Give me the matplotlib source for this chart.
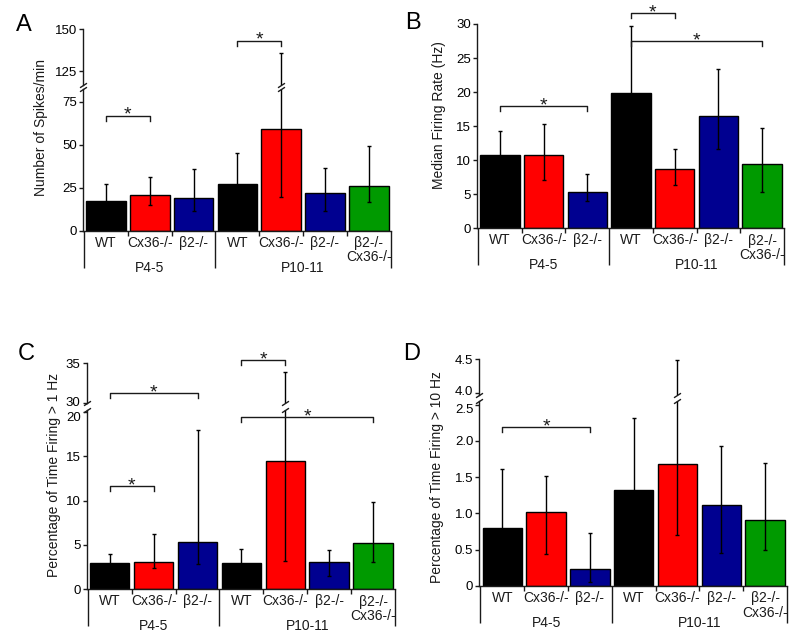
import matplotlib
matplotlib.use('Agg')
import matplotlib.pyplot as plt
import matplotlib.transforms as mtrans
import numpy as np

plt.rcParams['font.family'] = ['Liberation Sans', 'DejaVu Sans']
plt.rcParams['axes.linewidth'] = 1.0

W, H, DPI = 800, 639, 100

# ---------------- data ----------------
genotypes = ['WT', 'Cx36-/-', 'β2-/-', 'WT', 'Cx36-/-', 'β2-/-', 'β2-/-\nCx36-/-']
groups = ['P4-5', 'P10-11']
group_sizes = [3, 4]
colors = ['#000000', '#ff0000', '#000090', '#000000', '#ff0000', '#000090', '#009a00']

# A: Number of Spikes/min
spikes_mean = [17.1, 20.6, 18.9, 27.0, 58.9, 22.2, 25.8]
spikes_hi = [27.1, 31.2, 35.6, 45.2, 135.8, 36.4, 49.1]
spikes_lo = [8.0, 14.8, 11.5, 14.0, 19.8, 11.5, 16.4]
spikes_sig = [(0, 1, 66.8), (3, 4, 143.3)]

# B: Median Firing Rate (Hz)
rate_mean = [10.7, 10.7, 5.3, 19.85, 8.7, 16.56, 9.4]
rate_hi = [14.35, 15.3, 7.94, 29.65, 11.66, 23.4, 14.75]
rate_lo = [7.5, 7.06, 4.0, 11.0, 6.37, 11.6, 5.4]
rate_sig = [(0, 2, 17.9), (3, 4, 31.6), (3, 6, 27.5)]

# C: Percentage of Time Firing > 1 Hz
p1_mean = [2.93, 3.05, 5.34, 2.93, 14.4, 3.05, 5.19]
p1_hi = [3.95, 6.2, 17.98, 4.58, 33.9, 4.44, 9.89]
p1_lo = [2.0, 2.37, 2.86, 1.8, 3.23, 1.54, 3.05]
p1_sig = [(0, 1, 11.6), (0, 2, 31.2), (3, 4, 35.4), (3, 6, 19.4)]

# D: Percentage of Time Firing > 10 Hz
p10_mean = [0.806, 1.015, 0.24, 1.32, 1.675, 1.11, 0.906]
p10_hi = [1.607, 1.518, 0.73, 2.31, 4.49, 1.925, 1.70]
p10_lo = [0.3, 0.444, 0.06, 0.6, 0.70, 0.45, 0.49]
p10_sig = [(0, 2, 2.19)]

# ---------------- helpers ----------------
def pt(px):
    return px * 72.0 / DPI

def rect(left, right, top, bottom):
    return [left / W, 1 - bottom / H, (right - left) / W, (bottom - top) / H]

XLIM = (-0.525, 6.5)
SLASH = [(-1, -0.65), (1, 0.65)]
INK = '#1a1a1a'
TICKSIZE = 9.5

fig = plt.figure(figsize=(W / DPI, H / DPI), dpi=DPI)


def draw_bars(ax, mean, lo, hi):
    x = np.arange(len(mean))
    m = np.array(mean)
    ax.bar(x, m, width=0.9, color=colors, edgecolor='black', linewidth=1, zorder=2)
    yerr = [m - np.array(lo), np.array(hi) - m]
    ax.errorbar(x, m, yerr=yerr, fmt='none', ecolor='black', elinewidth=1,
                capsize=1.6, capthick=1, zorder=3)
    ax.set_xlim(*XLIM)
    for s in ['top', 'right']:
        ax.spines[s].set_visible(False)
    for s in ['left', 'bottom']:
        ax.spines[s].set_color(INK)
    ax.tick_params(axis='y', direction='out', length=pt(4), width=1, color=INK,
                   labelsize=TICKSIZE, pad=1.5)


def style_bottom(ax):
    ax.set_xticks([-0.5, 2.5, 6.5])
    ax.set_xticks([0.5, 1.5, 3.5, 4.5, 5.5], minor=True)
    ax.tick_params(axis='x', which='major', direction='out', length=pt(37), width=1,
                   color=INK, labelbottom=False)
    ax.tick_params(axis='x', which='minor', direction='out', length=pt(5), width=1,
                   color=INK, labelbottom=False)
    for i, lab in enumerate(genotypes):
        off = 19.5 if '\n' in lab else 12
        ax.annotate(lab, xy=(i, 0), xycoords=('data', 'axes fraction'),
                    xytext=(0, -pt(off)), textcoords='offset points',
                    ha='center', va='center', fontsize=10, linespacing=1.05, color=INK,
                    annotation_clip=False)
    start = 0
    for g, n in zip(groups, group_sizes):
        c = start + (n - 1) / 2.0
        ax.annotate(g, xy=(c, 0), xycoords=('data', 'axes fraction'),
                    xytext=(0, -pt(37)), textcoords='offset points',
                    ha='center', va='center', fontsize=10, color=INK,
                    annotation_clip=False)
        start += n


def style_top(ax):
    ax.spines['bottom'].set_visible(False)
    ax.tick_params(axis='x', which='both', bottom=False, labelbottom=False)


def bracket(ax, i, j, y):
    y0, y1 = ax.get_ylim()
    hpx = ax.get_position().height * H
    d = 5 * (y1 - y0) / hpx
    ax.plot([i, i, j, j], [y - d, y, y, y - d], color=INK, lw=1, clip_on=False, zorder=4)
    ax.annotate('*', xy=((i + j) / 2.0, y), xycoords='data',
                xytext=(0, -pt(4)), textcoords='offset points',
                ha='center', va='baseline', fontsize=14, color=INK,
                annotation_clip=False)


def slashes(ax_up, ax_lo, xs):
    kw = dict(marker=SLASH, markersize=5, linestyle='none', color=INK, mec=INK,
              mew=1, clip_on=False, zorder=5)
    ax_up.plot([0], [0], transform=ax_up.transAxes, **kw)
    ax_lo.plot([0], [1], transform=ax_lo.transAxes, **kw)
    for x in xs:
        tu = mtrans.blended_transform_factory(ax_up.transData, ax_up.transAxes)
        tl = mtrans.blended_transform_factory(ax_lo.transData, ax_lo.transAxes)
        ax_up.plot([x], [0], transform=tu, **kw)
        ax_lo.plot([x], [1], transform=tl, **kw)


def nudge(label, dy_px):
    label.set_transform(label.get_transform() +
                        mtrans.ScaledTranslation(0, dy_px / DPI, fig.dpi_scale_trans))


def broken_panel(left, right, lo_box, up_box, lo_lim, up_lim, lo_ticks, up_ticks,
                 lo_labels, up_labels, mean, lo, hi, sig, break_x, nudges):
    ax_lo = fig.add_axes(rect(left, right, lo_box[0], lo_box[1]))
    ax_up = fig.add_axes(rect(left, right, up_box[0], up_box[1]))
    for ax in (ax_lo, ax_up):
        draw_bars(ax, mean, lo, hi)
    ax_lo.set_ylim(*lo_lim)
    ax_up.set_ylim(*up_lim)
    ax_lo.set_yticks(lo_ticks)
    ax_lo.set_yticklabels(lo_labels)
    ax_up.set_yticks(up_ticks)
    ax_up.set_yticklabels(up_labels)
    style_bottom(ax_lo)
    style_top(ax_up)
    for i, j, y in sig:
        bracket(ax_up if y > lo_lim[1] else ax_lo, i, j, y)
    slashes(ax_up, ax_lo, break_x)
    if nudges:
        nudge(ax_lo.get_yticklabels()[-1], -nudges[0])
        nudge(ax_up.get_yticklabels()[0], nudges[1])
    return ax_lo, ax_up


# ---------------- Panel A ----------------
broken_panel(83, 390.7, (89, 230.7), (29.3, 85), (0, 82.4), (117, 150),
             [0, 25, 50, 75], [125, 150], ['0', '25', '50', '75'], ['125', '150'],
             spikes_mean, spikes_lo, spikes_hi, spikes_sig, [4], None)

# ---------------- Panel B ----------------
axB = fig.add_axes(rect(477, 784, 24, 228.3))
draw_bars(axB, rate_mean, rate_lo, rate_hi)
axB.set_ylim(0, 30)
axB.set_yticks([0, 5, 10, 15, 20, 25, 30])
style_bottom(axB)
for i, j, y in rate_sig:
    bracket(axB, i, j, y)

# ---------------- Panel C ----------------
broken_panel(86.7, 395, (410, 589.3), (363.3, 403), (0, 20.2), (30, 35),
             [0, 5, 10, 15, 20], [30, 35], ['0', '5', '10', '15', '20'], ['30', '35'],
             p1_mean, p1_lo, p1_hi, p1_sig, [4], (5, 1.5))

# ---------------- Panel D ----------------
broken_panel(479.3, 787, (401, 586), (359.3, 395), (0, 2.55), (3.97, 4.5),
             [0, 0.5, 1.0, 1.5, 2.0, 2.5], [4.0, 4.5],
             ['0', '0.5', '1.0', '1.5', '2.0', '2.5'], ['4.0', '4.5'],
             p10_mean, p10_lo, p10_hi, p10_sig, [4], (4, 2.5))

# ---------------- labels ----------------
ylabels = [('Number of Spikes/min', 41, 127),
           ('Median Firing Rate (Hz)', 438.5, 115),
           ('Percentage of Time Firing > 1 Hz', 54, 475),
           ('Percentage of Time Firing > 10 Hz', 437, 477)]
for txt, x, y in ylabels:
    fig.text(x / W, 1 - y / H, txt, rotation=90, ha='center', va='center',
             fontsize=10, color=INK)

letters = [('A', 24, 25), ('B', 413, 23), ('C', 26, 354), ('D', 412, 354)]
for txt, x, y in letters:
    fig.text(x / W, 1 - y / H, txt, ha='center', va='center', fontsize=17, color='black')

fig.savefig('out.png', dpi=DPI)
